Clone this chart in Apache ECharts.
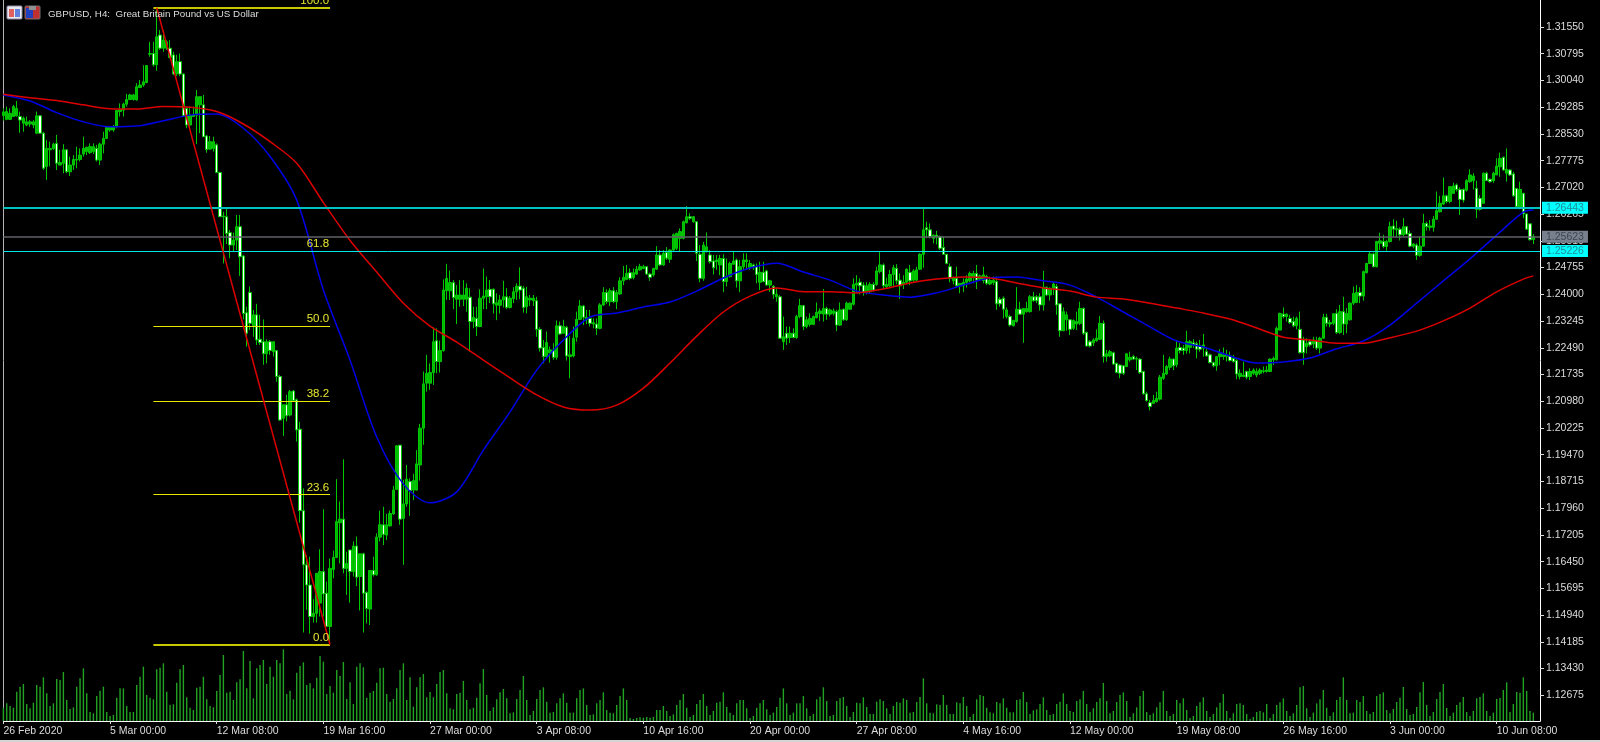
<!DOCTYPE html>
<html>
<head>
<meta charset="utf-8">
<style>html,body{margin:0;padding:0;background:#000;overflow:hidden}#c{width:1600px;height:742px}</style>
<script src="https://cdn.jsdelivr.net/npm/echarts@6/dist/echarts.min.js"></script>
</head>
<body>
<div id="c"></div>
<script>
const titleText = 'GBPUSD, H4:  Great Britain Pound vs US Dollar';
const dateLabels = ['26 Feb 2020','5 Mar 00:00','12 Mar 08:00','19 Mar 16:00','27 Mar 00:00','3 Apr 08:00','10 Apr 16:00','20 Apr 00:00','27 Apr 08:00','4 May 16:00','12 May 00:00','19 May 08:00','26 May 16:00','3 Jun 00:00','10 Jun 08:00'];
const barsPerLabel = 32;
const barSlots = 462;
const priceTicks = [1.31550,1.30795,1.30040,1.29285,1.28530,1.27775,1.27020,1.26265,1.25510,1.24755,1.24000,1.23245,1.22490,1.21735,1.20980,1.20225,1.19470,1.18715,1.17960,1.17205,1.16450,1.15695,1.14940,1.14185,1.13430,1.12675];

const opens = [
1.2905,1.2894,1.2894,1.2902,1.2904,1.2902,1.2883,1.2878,1.2881,1.2878,
1.2855,1.2904,1.2855,1.2761,1.2808,1.2812,1.2826,1.2765,1.2770,1.2808,
1.2746,1.2765,1.2779,1.2781,1.2796,1.2803,1.2800,1.2803,1.2812,1.2779,
1.2824,1.2840,1.2864,1.2864,1.2873,1.2916,1.2920,1.2937,1.2950,1.2950,
1.2949,1.2984,1.2991,1.2998,1.3078,1.3080,1.3048,1.3132,1.3095,1.3095,
1.3095,1.3076,1.3022,1.3057,1.3022,1.2925,1.2878,1.2902,1.2906,1.2935,
1.2935,1.2847,1.2810,1.2812,1.2822,1.2744,1.2619,1.2619,1.2574,1.2539,
1.2553,1.2591,1.2508,1.2348,1.2405,1.2311,1.2342,1.2273,1.2266,1.2232,
1.2266,1.2238,1.2241,1.2168,1.2050,1.2088,1.2059,1.2127,1.2102,1.2019,
1.1789,1.1636,1.1579,1.1490,1.1499,1.1528,1.1617,1.1556,1.1462,1.1623,
1.1657,1.1755,1.1765,1.1626,1.1678,1.1617,1.1689,1.1603,1.1667,1.1558,
1.1511,1.1620,1.1608,1.1714,1.1749,1.1720,1.1746,1.1780,1.1849,1.1974,
1.1767,1.1808,1.1871,1.1847,1.1847,1.1918,1.2022,1.2149,1.2149,1.2179,
1.2269,1.2210,1.2241,1.2410,1.2410,1.2433,1.2386,1.2386,1.2386,1.2386,
1.2392,1.2323,1.2332,1.2309,1.2389,1.2393,1.2414,1.2414,1.2369,1.2369,
1.2384,1.2393,1.2363,1.2388,1.2407,1.2423,1.2417,1.2365,1.2384,1.2382,
1.2382,1.2301,1.2250,1.2224,1.2235,1.2243,1.2222,1.2311,1.2290,1.2307,
1.2224,1.2226,1.2279,1.2329,1.2367,1.2329,1.2332,1.2316,1.2316,1.2304,
1.2370,1.2405,1.2379,1.2410,1.2379,1.2401,1.2438,1.2442,1.2461,1.2447,
1.2457,1.2469,1.2473,1.2478,1.2457,1.2455,1.2471,1.2511,1.2483,1.2518,
1.2499,1.2525,1.2530,1.2558,1.2558,1.2602,1.2619,1.2605,1.2605,1.2513,
1.2445,1.2520,1.2511,1.2494,1.2492,1.2483,1.2501,1.2436,1.2450,1.2485,
1.2497,1.2438,1.2478,1.2492,1.2475,1.2483,1.2478,1.2434,1.2462,1.2466,
1.2426,1.2422,1.2393,1.2393,1.2266,1.2290,1.2278,1.2290,1.2278,1.2337,
1.2368,1.2309,1.2315,1.2315,1.2334,1.2346,1.2344,1.2360,1.2344,1.2346,
1.2351,1.2313,1.2358,1.2328,1.2358,1.2372,1.2426,1.2434,1.2426,1.2406,
1.2407,1.2428,1.2428,1.2464,1.2483,1.2421,1.2424,1.2456,1.2473,1.2440,
1.2428,1.2434,1.2462,1.2440,1.2440,1.2471,1.2513,1.2588,1.2582,1.2558,
1.2567,1.2563,1.2532,1.2513,1.2478,1.2438,1.2445,1.2424,1.2424,1.2434,
1.2438,1.2447,1.2459,1.2443,1.2439,1.2450,1.2429,1.2433,1.2436,1.2386,
1.2389,1.2337,1.2337,1.2311,1.2323,1.2358,1.2344,1.2351,1.2351,1.2393,
1.2393,1.2393,1.2370,1.2420,1.2398,1.2417,1.2422,1.2373,1.2297,1.2328,
1.2328,1.2304,1.2316,1.2318,1.2360,1.2292,1.2266,1.2263,1.2269,1.2273,
1.2318,1.2224,1.2226,1.2235,1.2205,1.2200,1.2198,1.2196,1.2215,1.2224,
1.2217,1.2217,1.2182,1.2119,1.2094,1.2092,1.2097,1.2104,1.2163,1.2175,
1.2194,1.2217,1.2201,1.2250,1.2248,1.2241,1.2250,1.2263,1.2260,1.2254,
1.2248,1.2238,1.2229,1.2207,1.2198,1.2224,1.2224,1.2224,1.2226,1.2219,
1.2213,1.2168,1.2168,1.2182,1.2168,1.2177,1.2172,1.2177,1.2182,1.2182,
1.2182,1.2215,1.2215,1.2299,1.2344,1.2337,1.2332,1.2323,1.2311,1.2301,
1.2271,1.2252,1.2266,1.2260,1.2269,1.2248,1.2276,1.2335,1.2316,1.2318,
1.2346,1.2292,1.2351,1.2316,1.2328,1.2375,1.2377,1.2405,1.2395,1.2461,
1.2487,1.2514,1.2478,1.2544,1.2549,1.2535,1.2549,1.2593,1.2582,1.2584,
1.2568,1.2591,1.2572,1.2536,1.2539,1.2510,1.2536,1.2600,1.2589,1.2589,
1.2612,1.2633,1.2655,1.2678,1.2662,1.2685,1.2709,1.2696,1.2696,1.2694,
1.2718,1.2721,1.2699,1.2671,1.2657,1.2742,1.2725,1.2721,1.2737,1.2760,
1.2787,1.2742,1.2751,1.2740,1.2699,1.2643,1.2685,1.2627,1.2599,1.2555];

const closes = [
1.2915,1.2916,1.2911,1.2930,1.2925,1.2892,1.2897,1.2887,1.2887,1.2887,
1.2904,1.2855,1.2756,1.2812,1.2812,1.2824,1.2770,1.2772,1.2808,1.2746,
1.2765,1.2781,1.2781,1.2793,1.2812,1.2815,1.2817,1.2817,1.2779,1.2824,
1.2840,1.2871,1.2873,1.2873,1.2919,1.2922,1.2937,1.2950,1.2963,1.2963,
1.2986,1.2991,1.3000,1.3046,1.3080,1.3048,1.3127,1.3095,1.3118,1.3113,
1.3069,1.3022,1.3057,1.3022,1.2904,1.2878,1.2906,1.2906,1.2958,1.2958,
1.2845,1.2809,1.2831,1.2831,1.2744,1.2619,1.2621,1.2572,1.2539,1.2553,
1.2591,1.2506,1.2346,1.2290,1.2318,1.2342,1.2271,1.2264,1.2232,1.2266,
1.2241,1.2266,1.2168,1.2045,1.2088,1.2057,1.2125,1.2100,1.2017,1.1789,
1.1636,1.1579,1.1490,1.1499,1.1612,1.1617,1.1554,1.1462,1.1626,1.1657,
1.1758,1.1765,1.1626,1.1640,1.1617,1.1689,1.1601,1.1667,1.1556,1.1513,
1.1620,1.1608,1.1714,1.1749,1.1722,1.1749,1.1781,1.1847,1.1972,1.1765,
1.1808,1.1878,1.1846,1.1874,1.1921,1.2022,1.2147,1.2177,1.2179,1.2266,
1.2210,1.2241,1.2412,1.2445,1.2433,1.2391,1.2398,1.2398,1.2398,1.2417,
1.2323,1.2335,1.2309,1.2389,1.2395,1.2412,1.2393,1.2373,1.2376,1.2384,
1.2393,1.2363,1.2389,1.2407,1.2423,1.2412,1.2363,1.2393,1.2389,1.2389,
1.2301,1.2248,1.2224,1.2264,1.2243,1.2222,1.2311,1.2288,1.2309,1.2226,
1.2229,1.2276,1.2329,1.2367,1.2335,1.2335,1.2318,1.2320,1.2304,1.2370,
1.2405,1.2379,1.2410,1.2379,1.2405,1.2438,1.2448,1.2459,1.2445,1.2461,
1.2471,1.2478,1.2478,1.2457,1.2448,1.2473,1.2511,1.2483,1.2516,1.2502,
1.2525,1.2568,1.2572,1.2577,1.2605,1.2619,1.2615,1.2619,1.2516,1.2445,
1.2539,1.2534,1.2492,1.2475,1.2497,1.2501,1.2436,1.2450,1.2487,1.2494,
1.2438,1.2478,1.2497,1.2497,1.2487,1.2478,1.2456,1.2462,1.2436,1.2426,
1.2438,1.2400,1.2400,1.2276,1.2280,1.2276,1.2290,1.2278,1.2337,1.2368,
1.2309,1.2328,1.2332,1.2337,1.2349,1.2353,1.2360,1.2344,1.2356,1.2353,
1.2313,1.2356,1.2328,1.2375,1.2375,1.2428,1.2431,1.2424,1.2406,1.2424,
1.2428,1.2412,1.2466,1.2483,1.2424,1.2428,1.2456,1.2475,1.2438,1.2424,
1.2434,1.2471,1.2438,1.2466,1.2469,1.2513,1.2582,1.2582,1.2563,1.2567,
1.2563,1.2530,1.2513,1.2487,1.2445,1.2447,1.2424,1.2431,1.2434,1.2443,
1.2459,1.2459,1.2440,1.2452,1.2455,1.2431,1.2439,1.2440,1.2373,1.2373,
1.2358,1.2356,1.2313,1.2326,1.2358,1.2344,1.2360,1.2360,1.2393,1.2382,
1.2382,1.2370,1.2420,1.2398,1.2417,1.2429,1.2370,1.2297,1.2351,1.2342,
1.2301,1.2326,1.2323,1.2360,1.2290,1.2254,1.2254,1.2271,1.2276,1.2318,
1.2224,1.2232,1.2238,1.2203,1.2179,1.2177,1.2177,1.2232,1.2222,1.2217,
1.2219,1.2179,1.2119,1.2100,1.2083,1.2100,1.2106,1.2166,1.2177,1.2196,
1.2217,1.2198,1.2248,1.2241,1.2241,1.2266,1.2266,1.2257,1.2245,1.2245,
1.2257,1.2226,1.2207,1.2198,1.2224,1.2232,1.2229,1.2229,1.2213,1.2210,
1.2175,1.2177,1.2172,1.2166,1.2182,1.2186,1.2182,1.2186,1.2184,1.2186,
1.2217,1.2219,1.2304,1.2346,1.2337,1.2344,1.2320,1.2311,1.2332,1.2235,
1.2235,1.2262,1.2257,1.2271,1.2248,1.2276,1.2335,1.2318,1.2320,1.2345,
1.2292,1.2351,1.2316,1.2346,1.2375,1.2403,1.2405,1.2395,1.2464,1.2487,
1.2514,1.2478,1.2549,1.2551,1.2535,1.2549,1.2591,1.2584,1.2586,1.2568,
1.2591,1.2570,1.2536,1.2542,1.2510,1.2536,1.2600,1.2591,1.2593,1.2612,
1.2636,1.2657,1.2678,1.2662,1.2704,1.2706,1.2696,1.2668,1.2666,1.2721,
1.2737,1.2734,1.2640,1.2640,1.2742,1.2721,1.2718,1.2742,1.2762,1.2784,
1.2751,1.2753,1.2737,1.2678,1.2648,1.2696,1.2627,1.2584,1.2554,1.2563];

const lows = [
1.2890,1.2892,1.2892,1.2902,1.2902,1.2856,1.2859,1.2875,1.2873,1.2869,
1.2853,1.2853,1.2751,1.2723,1.2761,1.2808,1.2751,1.2765,1.2742,1.2742,
1.2734,1.2751,1.2756,1.2775,1.2789,1.2793,1.2796,1.2796,1.2775,1.2765,
1.2798,1.2838,1.2859,1.2859,1.2869,1.2902,1.2902,1.2930,1.2949,1.2947,
1.2947,1.2982,1.2986,1.2996,1.3071,1.3043,1.3031,1.3090,1.3085,1.3090,
1.3066,1.3019,1.3016,1.3016,1.2902,1.2869,1.2873,1.2902,1.2824,1.2855,
1.2845,1.2800,1.2808,1.2803,1.2742,1.2619,1.2487,1.2542,1.2502,1.2520,
1.2525,1.2452,1.2329,1.2252,1.2299,1.2280,1.2257,1.2257,1.2201,1.2205,
1.2229,1.2224,1.2153,1.2043,1.2000,1.2041,1.2055,1.2097,1.1984,1.1755,
1.1445,1.1509,1.1442,1.1473,1.1473,1.1490,1.1490,1.1462,1.1411,1.1598,
1.1655,1.1640,1.1612,1.1551,1.1529,1.1603,1.1576,1.1507,1.1445,1.1471,
1.1466,1.1603,1.1605,1.1702,1.1692,1.1706,1.1744,1.1777,1.1847,1.1749,
1.1636,1.1800,1.1774,1.1819,1.1846,1.1874,1.1975,1.2125,1.2130,1.2144,
1.2177,1.2179,1.2238,1.2384,1.2384,1.2358,1.2316,1.2365,1.2367,1.2351,
1.2238,1.2304,1.2282,1.2307,1.2358,1.2358,1.2375,1.2346,1.2327,1.2346,
1.2363,1.2358,1.2360,1.2375,1.2384,1.2386,1.2348,1.2346,1.2367,1.2367,
1.2280,1.2238,1.2205,1.2219,1.2207,1.2215,1.2215,1.2285,1.2288,1.2213,
1.2163,1.2222,1.2266,1.2328,1.2313,1.2316,1.2309,1.2304,1.2285,1.2301,
1.2367,1.2373,1.2367,1.2375,1.2358,1.2398,1.2426,1.2440,1.2440,1.2442,
1.2455,1.2467,1.2471,1.2455,1.2438,1.2450,1.2469,1.2480,1.2480,1.2497,
1.2489,1.2523,1.2525,1.2520,1.2555,1.2600,1.2610,1.2602,1.2494,1.2434,
1.2438,1.2518,1.2487,1.2456,1.2469,1.2454,1.2406,1.2422,1.2447,1.2483,
1.2419,1.2406,1.2469,1.2471,1.2469,1.2469,1.2431,1.2412,1.2434,1.2424,
1.2407,1.2387,1.2379,1.2274,1.2243,1.2257,1.2262,1.2276,1.2274,1.2332,
1.2299,1.2304,1.2309,1.2313,1.2332,1.2325,1.2323,1.2328,1.2337,1.2340,
1.2296,1.2311,1.2325,1.2325,1.2356,1.2368,1.2403,1.2400,1.2396,1.2400,
1.2403,1.2407,1.2424,1.2459,1.2415,1.2417,1.2419,1.2424,1.2428,1.2387,
1.2415,1.2428,1.2426,1.2434,1.2438,1.2469,1.2475,1.2558,1.2558,1.2544,
1.2541,1.2525,1.2511,1.2485,1.2434,1.2428,1.2419,1.2403,1.2406,1.2419,
1.2434,1.2431,1.2415,1.2438,1.2431,1.2426,1.2426,1.2426,1.2356,1.2365,
1.2332,1.2332,1.2309,1.2309,1.2320,1.2342,1.2263,1.2348,1.2348,1.2379,
1.2375,1.2354,1.2354,1.2395,1.2382,1.2398,1.2342,1.2280,1.2297,1.2297,
1.2285,1.2299,1.2299,1.2313,1.2285,1.2252,1.2250,1.2254,1.2266,1.2271,
1.2207,1.2210,1.2222,1.2200,1.2177,1.2163,1.2172,1.2194,1.2210,1.2215,
1.2186,1.2175,1.2116,1.2097,1.2072,1.2090,1.2094,1.2100,1.2158,1.2172,
1.2186,1.2186,1.2194,1.2233,1.2229,1.2232,1.2233,1.2248,1.2219,1.2238,
1.2224,1.2224,1.2205,1.2194,1.2184,1.2200,1.2215,1.2210,1.2210,1.2207,
1.2160,1.2160,1.2166,1.2160,1.2158,1.2172,1.2166,1.2172,1.2177,1.2179,
1.2180,1.2200,1.2213,1.2299,1.2332,1.2323,1.2316,1.2307,1.2301,1.2233,
1.2201,1.2233,1.2252,1.2248,1.2243,1.2233,1.2274,1.2309,1.2307,1.2313,
1.2288,1.2288,1.2285,1.2290,1.2326,1.2370,1.2375,1.2375,1.2382,1.2459,
1.2486,1.2476,1.2476,1.2525,1.2530,1.2523,1.2546,1.2563,1.2561,1.2552,
1.2563,1.2568,1.2533,1.2530,1.2497,1.2506,1.2535,1.2580,1.2580,1.2577,
1.2610,1.2631,1.2652,1.2657,1.2657,1.2685,1.2690,1.2624,1.2659,1.2690,
1.2715,1.2696,1.2615,1.2636,1.2655,1.2721,1.2715,1.2715,1.2737,1.2732,
1.2749,1.2718,1.2734,1.2676,1.2643,1.2640,1.2615,1.2582,1.2552,1.2542];

const highs = [
1.2925,1.2930,1.2925,1.2935,1.2946,1.2916,1.2902,1.2902,1.2892,1.2892,
1.2916,1.2906,1.2859,1.2836,1.2831,1.2828,1.2850,1.2808,1.2824,1.2809,
1.2789,1.2793,1.2817,1.2812,1.2845,1.2817,1.2826,1.2826,1.2822,1.2828,
1.2859,1.2873,1.2875,1.2878,1.2920,1.2939,1.2941,1.2966,1.2966,1.2966,
1.2996,1.3005,1.3047,1.3047,1.3113,1.3113,1.3209,1.3146,1.3146,1.3118,
1.3118,1.3085,1.3076,1.3080,1.3024,1.2930,1.2930,1.2930,1.2977,1.2958,
1.2963,1.2850,1.2847,1.2845,1.2826,1.2746,1.2633,1.2643,1.2582,1.2574,
1.2624,1.2624,1.2511,1.2365,1.2422,1.2356,1.2373,1.2342,1.2329,1.2273,
1.2271,1.2266,1.2243,1.2172,1.2088,1.2116,1.2130,1.2130,1.2106,1.2040,
1.1852,1.1664,1.1659,1.1539,1.1612,1.1680,1.1793,1.1589,1.1654,1.1676,
1.1878,1.1815,1.1934,1.1673,1.1678,1.1702,1.1716,1.1667,1.1670,1.1561,
1.1620,1.1659,1.1725,1.1789,1.1800,1.1780,1.1789,1.1859,1.1974,1.1974,
1.1876,1.1918,1.1880,1.1893,1.1960,1.2034,1.2182,1.2229,1.2205,1.2307,
1.2304,1.2269,1.2442,1.2486,1.2467,1.2440,1.2426,1.2440,1.2440,1.2431,
1.2417,1.2365,1.2365,1.2414,1.2473,1.2450,1.2440,1.2417,1.2403,1.2398,
1.2438,1.2417,1.2395,1.2420,1.2431,1.2476,1.2423,1.2421,1.2398,1.2398,
1.2393,1.2307,1.2271,1.2295,1.2252,1.2262,1.2326,1.2323,1.2328,1.2311,
1.2282,1.2309,1.2351,1.2384,1.2370,1.2356,1.2356,1.2332,1.2332,1.2375,
1.2420,1.2414,1.2417,1.2420,1.2412,1.2448,1.2480,1.2483,1.2473,1.2473,
1.2480,1.2486,1.2483,1.2480,1.2461,1.2475,1.2536,1.2525,1.2525,1.2533,
1.2527,1.2572,1.2574,1.2586,1.2608,1.2649,1.2629,1.2621,1.2607,1.2539,
1.2548,1.2575,1.2525,1.2511,1.2511,1.2511,1.2513,1.2501,1.2492,1.2520,
1.2501,1.2497,1.2516,1.2516,1.2497,1.2487,1.2487,1.2492,1.2492,1.2469,
1.2441,1.2426,1.2417,1.2398,1.2337,1.2309,1.2309,1.2304,1.2342,1.2387,
1.2370,1.2337,1.2346,1.2340,1.2377,1.2360,1.2415,1.2365,1.2360,1.2360,
1.2356,1.2377,1.2360,1.2379,1.2377,1.2445,1.2454,1.2445,1.2434,1.2434,
1.2434,1.2434,1.2478,1.2519,1.2487,1.2447,1.2469,1.2483,1.2485,1.2459,
1.2454,1.2473,1.2483,1.2471,1.2478,1.2516,1.2643,1.2605,1.2600,1.2569,
1.2579,1.2566,1.2563,1.2513,1.2487,1.2450,1.2478,1.2431,1.2445,1.2454,
1.2464,1.2466,1.2483,1.2456,1.2478,1.2455,1.2450,1.2450,1.2450,1.2392,
1.2394,1.2363,1.2342,1.2328,1.2420,1.2379,1.2360,1.2379,1.2398,1.2407,
1.2398,1.2403,1.2466,1.2422,1.2420,1.2436,1.2429,1.2375,1.2363,1.2351,
1.2329,1.2329,1.2351,1.2379,1.2363,1.2295,1.2271,1.2276,1.2301,1.2339,
1.2326,1.2243,1.2243,1.2238,1.2207,1.2203,1.2198,1.2233,1.2238,1.2229,
1.2224,1.2219,1.2184,1.2125,1.2102,1.2116,1.2125,1.2172,1.2229,1.2200,
1.2224,1.2219,1.2271,1.2262,1.2257,1.2297,1.2271,1.2273,1.2266,1.2271,
1.2288,1.2248,1.2233,1.2210,1.2226,1.2245,1.2250,1.2243,1.2238,1.2229,
1.2217,1.2188,1.2210,1.2184,1.2191,1.2191,1.2191,1.2191,1.2196,1.2198,
1.2219,1.2224,1.2309,1.2348,1.2363,1.2346,1.2342,1.2337,1.2337,1.2351,
1.2280,1.2276,1.2271,1.2280,1.2280,1.2280,1.2345,1.2345,1.2328,1.2346,
1.2358,1.2370,1.2393,1.2361,1.2377,1.2422,1.2426,1.2420,1.2467,1.2489,
1.2520,1.2518,1.2551,1.2574,1.2568,1.2554,1.2605,1.2612,1.2608,1.2589,
1.2615,1.2593,1.2580,1.2544,1.2544,1.2563,1.2627,1.2605,1.2610,1.2621,
1.2690,1.2678,1.2730,1.2681,1.2704,1.2715,1.2713,1.2702,1.2699,1.2725,
1.2753,1.2742,1.2721,1.2680,1.2744,1.2746,1.2727,1.2746,1.2784,1.2800,
1.2789,1.2812,1.2753,1.2746,1.2699,1.2718,1.2687,1.2627,1.2601,1.2570];

const tickVolume = [
40,53,45,40,88,103,111,51,38,55,108,
103,131,83,45,53,126,123,147,63,36,
41,103,128,158,83,27,23,75,91,103,
27,15,18,70,98,98,45,27,27,108,
133,163,78,70,65,155,160,173,88,48,
50,115,155,168,71,40,33,100,103,133,
65,45,41,90,138,198,85,88,63,116,
125,210,98,180,68,158,168,183,111,163,
133,183,173,215,81,91,65,145,165,176,
108,113,98,130,195,178,81,105,85,153,
135,177,66,116,51,163,173,161,70,85,
90,115,158,160,81,58,66,98,153,173,
63,131,43,101,131,141,71,87,71,111,
147,153,83,38,35,81,85,120,63,35,
40,70,113,156,78,30,41,65,86,96,
68,23,26,66,93,135,63,18,30,66,
93,101,58,25,27,53,68,83,55,25,
25,68,93,98,48,18,20,53,63,86,
33,25,23,48,75,98,63,9,6,9,
11,10,12,10,12,33,33,45,30,15,
20,48,63,81,40,12,18,51,63,81,
45,18,30,55,58,86,42,25,18,53,
63,63,38,9,15,40,53,63,35,18,
25,42,70,98,53,18,25,53,53,75,
38,15,21,65,73,101,60,15,18,60,
68,72,45,12,27,55,53,71,42,21,
21,58,65,60,38,21,45,57,55,68,
63,25,27,57,72,128,53,25,23,50,
48,78,48,21,21,56,53,72,45,12,
21,65,78,75,40,26,23,57,53,68,
40,26,26,63,65,87,57,21,32,35,
51,71,33,18,21,51,58,83,51,30,
27,60,65,90,51,27,38,57,68,114,
60,23,30,57,78,86,60,12,23,41,
75,90,27,18,23,41,56,90,30,15,
21,63,53,68,33,9,15,45,56,71,
30,12,21,41,55,81,30,9,23,51,
53,48,21,6,12,27,30,26,51,9,
21,48,56,68,30,15,23,48,101,105,
38,12,25,53,65,93,40,15,26,63,
72,131,63,23,25,63,57,75,30,21,
27,75,81,86,33,23,36,57,70,102,
36,18,21,42,86,117,48,15,27,66,
87,111,39,15,25,48,56,72,27,15,
30,68,72,83,30,15,25,66,69,93,
116,27,51,87,85,131,90,30,25];

const maBars = [0,8,16,24,32,40,48,56,64,72,80,88,96,104,112,120,128,136,144,152,160,168,176,184,192,200,208,216,224,232,240,248,256,264,272,280,288,296,304,312,320,328,336,344,352,360,368,376,384,392,400,408,416,424,432,440,448,456,459];
const maFast = [1.2963,1.2946,1.2913,1.2887,1.2873,1.2875,1.2890,1.2906,1.2909,1.2869,1.2789,1.2666,1.2412,1.2214,1.1997,1.1864,1.1811,1.1842,1.1960,1.2068,1.2186,1.2271,1.2336,1.2347,1.2364,1.2378,1.2409,1.2446,1.2474,1.2488,1.2463,1.2440,1.2409,1.2398,1.2392,1.2404,1.2426,1.2446,1.2449,1.2438,1.2426,1.2392,1.2350,1.2308,1.2268,1.2251,1.2226,1.2206,1.2209,1.2220,1.2246,1.2268,1.2313,1.2375,1.2438,1.2500,1.2567,1.2632,1.2638];
const maSlow = [1.2965,1.2955,1.2947,1.2935,1.2924,1.2923,1.2930,1.2928,1.2916,1.2881,1.2831,1.2770,1.2659,1.2552,1.2463,1.2375,1.2310,1.2265,1.2214,1.2164,1.2116,1.2082,1.2073,1.2087,1.2135,1.2206,1.2282,1.2350,1.2395,1.2418,1.2407,1.2407,1.2404,1.2415,1.2432,1.2443,1.2449,1.2446,1.2432,1.2418,1.2409,1.2392,1.2387,1.2375,1.2361,1.2347,1.2330,1.2305,1.2279,1.2271,1.2262,1.2262,1.2277,1.2296,1.2325,1.2361,1.2407,1.2443,1.2452];

const fibLevels = [0.0,23.6,38.2,50.0,61.8,100.0];
const fibPrices = [1.14105,1.18350,1.20980,1.23100,1.25226,1.32094];
const fibBarStart = 45, fibBarEnd = 98;
const trendFrom = [46,1.32094], trendTo = [98,1.14105];
const priceLevels = [1.26443,1.25623,1.25226];

const categories = Array.from({length: barSlots}, (_, i) => i % barsPerLabel === 0 && dateLabels[i / barsPerLabel] ? dateLabels[i / barsPerLabel] : '');
const ohlc = opens.map((o, i) => [o, closes[i], lows[i], highs[i]]);
const isLabelBar = i => i % barsPerLabel === 0 && i / barsPerLabel < dateLabels.length;
const FONT = '"Liberation Sans", Arial, sans-serif';
const levelStyles = [
  {line:{color:'#00c0c0',width:2}, bg:'#00ffff', fg:'#1e8c96'},
  {line:{color:'#60606a',width:1.5}, bg:'#77808c', fg:'#3e4650'},
  {line:{color:'#00e6e6',width:1}, bg:'#00ffff', fg:'#1e8c96'}
];
const fibMark = fibLevels.map((lvl, k) => [
  {xAxis: fibBarStart, yAxis: fibPrices[k],
   lineStyle: {color: (k===0||k===5) ? '#c8c800' : '#e6e600', width: (k===0||k===5) ? 2 : 1, type:'solid'},
   label: {show:true, position:'insideEndTop', formatter: lvl.toFixed(1), color:'#e6e632', fontFamily:FONT, fontSize:11.5, distance:1}},
  {xAxis: fibBarEnd, yAxis: fibPrices[k]}
]);
const levelMark = priceLevels.map((p, k) => [
  {xAxis: 0, yAxis: p, lineStyle: Object.assign({type:'solid'}, levelStyles[k].line),
   label: {show:true, position:'end', distance:2, formatter:p.toFixed(5), color:levelStyles[k].fg, backgroundColor:levelStyles[k].bg,
     fontFamily:FONT, fontSize:10.5, padding:[1,4,1,4], lineHeight:10}},
  {xAxis: barSlots - 1, yAxis: p}
]);
const trendMark = [[
  {xAxis:trendFrom[0], yAxis:trendFrom[1], lineStyle:{color:'#dc0000', width:1.5, type:'solid'}, label:{show:false}},
  {xAxis:trendTo[0], yAxis:trendTo[1]}
]];

const chart = echarts.init(document.getElementById('c'), null, {renderer:'canvas'});
chart.setOption({
  backgroundColor:'#000',
  animation:false,
  title:{text:titleText, left:48, top:9, padding:0, textStyle:{color:'#dcdcdc', fontSize:9.8, fontWeight:'normal', fontFamily:FONT}},
  grid:{left:3.4, right:60, top:0, bottom:21, containLabel:false},
  xAxis:{type:'category', data:categories, boundaryGap:false,
    axisLine:{lineStyle:{color:'#ffffff', width:1}},
    axisTick:{show:true, length:3, interval:(i)=>isLabelBar(i), lineStyle:{color:'#dcdcdc'}},
    axisLabel:{color:'#dcdcdc', fontFamily:FONT, fontSize:10.5, align:'left', margin:5, interval:(i)=>isLabelBar(i), hideOverlap:false},
    splitLine:{show:false}},
  yAxis:[
    {type:'value', position:'right', min:1.11950, max:1.32311, scale:true,
      axisLine:{show:true, lineStyle:{color:'#ffffff', width:1}},
      axisTick:{show:true, length:4, customValues:priceTicks, lineStyle:{color:'#dcdcdc'}},
      axisLabel:{color:'#dcdcdc', fontFamily:FONT, fontSize:10.5, margin:6, customValues:priceTicks, formatter:v=>v.toFixed(5)},
      splitLine:{show:false}},
    {type:'value', position:'left', min:0, max:2163,
      axisLine:{show:true, lineStyle:{color:'#b4b4b4', width:1}},
      axisTick:{show:false}, axisLabel:{show:false}, splitLine:{show:false}}
  ],
  graphic:[
    {type:'rect', shape:{x:7,y:6,width:15,height:13,r:1}, style:{fill:'#e8e8f0',stroke:'#9090a8'}, silent:true},
    {type:'rect', shape:{x:9,y:9,width:5,height:8}, style:{fill:'#e06060'}, silent:true},
    {type:'rect', shape:{x:15,y:9,width:5,height:8}, style:{fill:'#6080e0'}, silent:true},
    {type:'rect', shape:{x:25,y:6,width:15,height:13,r:1}, style:{fill:'#c03030',stroke:'#707070'}, silent:true},
    {type:'rect', shape:{x:26,y:8,width:7,height:10}, style:{fill:'#2040c0'}, silent:true},
    {type:'rect', shape:{x:29,y:6,width:7,height:4}, style:{fill:'#909090'}, silent:true},
    {type:'rect', shape:{x:0,y:740,width:1600,height:2}, style:{fill:'#d4d4d4'}, silent:true}
  ],
  series:[
    {type:'bar', name:'Volume', yAxisIndex:1, data:tickVolume, barWidth:1.4, itemStyle:{color:'#22a222'}, silent:true, z:1},
    {type:'candlestick', name:'GBPUSD', data:ohlc, barWidth:3, silent:true, z:2,
      itemStyle:{color:'#00b800', color0:'#ffffff', borderColor:'#00c800', borderColor0:'#00c800', borderWidth:1},
      markLine:{silent:true, symbol:'none', animation:false, z:6, data:[...fibMark, ...levelMark, ...trendMark]}},
    {type:'line', name:'MA fast', data:maBars.map((b,k)=>[b,maFast[k]]), showSymbol:false, smooth:0.3, lineStyle:{color:'#0000e6',width:1.5}, silent:true, z:3},
    {type:'line', name:'MA slow', data:maBars.map((b,k)=>[b,maSlow[k]]), showSymbol:false, smooth:0.3, lineStyle:{color:'#dc0000',width:1.5}, silent:true, z:3}
  ]
});
</script>
</body>
</html>
